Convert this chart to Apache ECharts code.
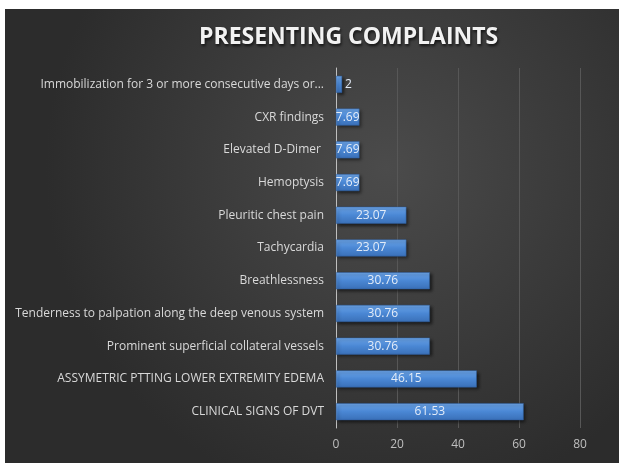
<!DOCTYPE html>
<html>
<head>
<meta charset="utf-8">
<script src="https://cdn.jsdelivr.net/npm/echarts@6/dist/echarts.min.js"></script>
<style>
  html, body { margin: 0; padding: 0; background: #ffffff; }
  #frame { position: absolute; left: 5px; top: 9px; width: 614px; height: 454px; }
</style>
</head>
<body>
<div id="frame"></div>
<script>
// Presenting complaints, percentage of patients (bottom to top on the category axis)
const complaints = [
  'CLINICAL SIGNS OF DVT',
  'ASSYMETRIC PTTING LOWER EXTREMITY EDEMA',
  'Prominent superficial collateral vessels',
  'Tenderness to palpation along the deep venous system',
  'Breathlessness',
  'Tachycardia',
  'Pleuritic chest pain',
  'Hemoptysis',
  'Elevated D-Dimer ',
  'CXR findings',
  'Immobilization for 3 or more consecutive days or...'
];
const percentages = [61.53, 46.15, 30.76, 30.76, 30.76, 23.07, 23.07, 7.69, 7.69, 7.69, 2];
const axisTicks = [0, 20, 40, 60, 80];

const chart = echarts.init(document.getElementById('frame'), null, { renderer: 'canvas' });

const barFill = new echarts.graphic.LinearGradient(0, 0, 0, 1, [
  { offset: 0, color: '#6da6ea' },
  { offset: 0.5, color: '#4a87d4' },
  { offset: 1, color: '#3a70b8' }
]);

chart.setOption({
  backgroundColor: new echarts.graphic.RadialGradient(0.62, 0.35, 0.75, [
    { offset: 0, color: '#4b4b4b' },
    { offset: 1, color: '#2c2c2c' }
  ]),
  animation: false,
  title: {
    text: 'PRESENTING COMPLAINTS',
    left: 189,
    top: 12,
    textStyle: {
      color: '#f2f2f2',
      fontFamily: 'Open Sans',
      fontWeight: 'bold',
      fontSize: 23,
      textShadowColor: 'rgba(0,0,0,0.7)',
      textShadowBlur: 3,
      textShadowOffsetX: 1,
      textShadowOffsetY: 2
    }
  },
  grid: { left: 331, right: 39, top: 59, bottom: 35, containLabel: false },
  xAxis: {
    type: 'value',
    min: axisTicks[0],
    max: axisTicks[axisTicks.length - 1],
    interval: axisTicks[1] - axisTicks[0],
    axisLine: { show: false },
    axisTick: { show: false },
    axisLabel: { color: '#bfbfbf', fontFamily: 'Open Sans', fontSize: 12, margin: 11 },
    splitLine: { show: true, lineStyle: { color: '#575757', width: 1 } }
  },
  yAxis: {
    type: 'category',
    data: complaints,
    axisLine: { show: true, lineStyle: { color: '#bfbfbf', width: 1 } },
    axisTick: { show: false },
    axisLabel: { color: '#d9d9d9', fontFamily: 'Open Sans', fontSize: 12, margin: 12 },
    splitLine: { show: false }
  },
  series: [{
    type: 'bar',
    data: percentages.map(v => v < 5
      ? { value: v, label: { position: 'right', distance: 3 } }
      : v),
    barCategoryGap: '48%',
    itemStyle: {
      color: barFill,
      borderColor: '#2f5f9e',
      borderWidth: 0.5,
      shadowColor: 'rgba(0,0,0,0.55)',
      shadowBlur: 3,
      shadowOffsetX: 2,
      shadowOffsetY: 2
    },
    label: {
      show: true,
      position: 'inside',
      color: '#e3ecf8',
      fontFamily: 'Open Sans',
      fontSize: 12,
      formatter: p => String(p.value)
    }
  }]
});
</script>
</body>
</html>
